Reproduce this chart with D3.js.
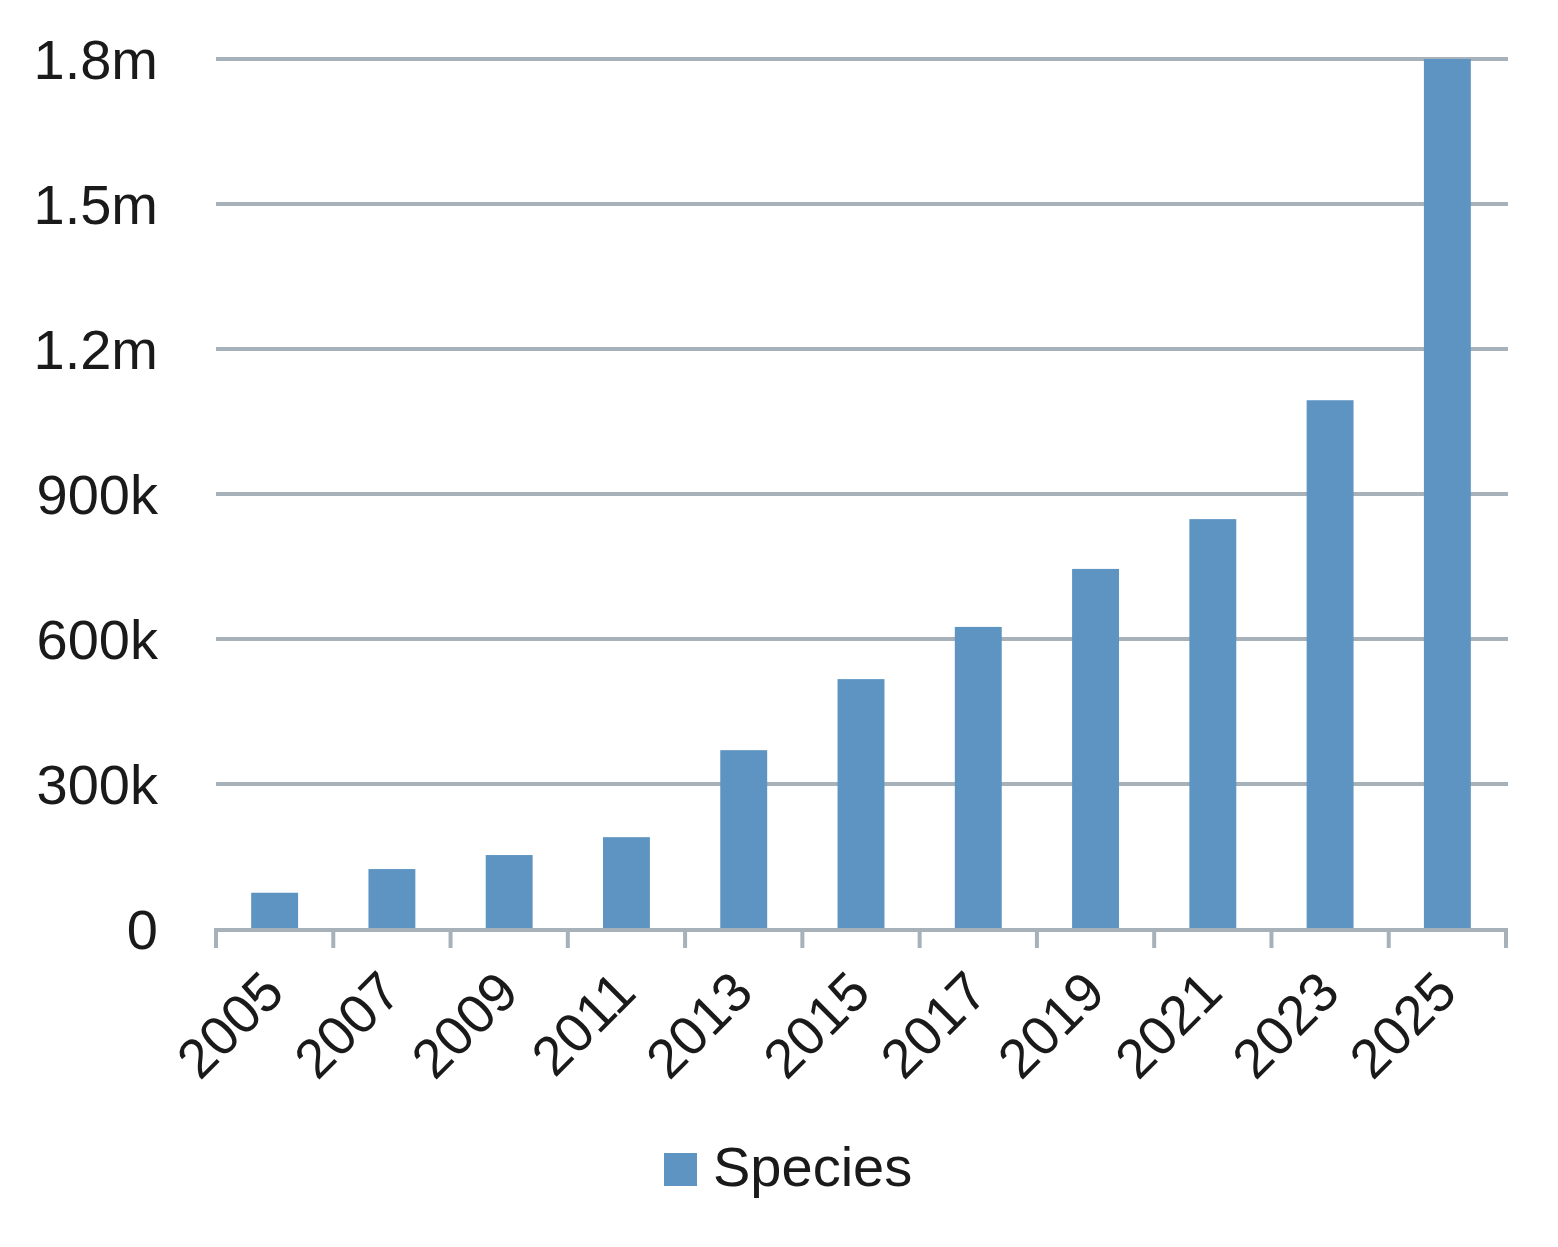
<!DOCTYPE html>
<html>
<head>
<meta charset="utf-8">
<script src="https://cdn.jsdelivr.net/npm/d3@7"></script>
<style>
  html, body { margin: 0; padding: 0; background: #fff; }
  svg { display: block; }
  text { font-family: "Liberation Sans", Arial, Helvetica, sans-serif; fill: #1a1a1a; }
</style>
</head>
<body>
<script>
const years = ["2005","2007","2009","2011","2013","2015","2017","2019","2021","2023","2025"];
const species = [75000, 124000, 153000, 190000, 370000, 517000, 625000, 745000, 848000, 1094000, 1800000];
const yTicks = [0, 300000, 600000, 900000, 1200000, 1500000, 1800000];
const yTickLabels = ["0", "300k", "600k", "900k", "1.2m", "1.5m", "1.8m"];
const seriesName = "Species";

const W = 1558, H = 1247;
const plotLeft = 216, plotRight = 1506, plotTop = 59, plotBottom = 929;
const barColor = "#5d94c1", gridColor = "#a6b1ba";

const svg = d3.select("body").append("svg").attr("width", W).attr("height", H);

const x = d3.scaleBand().domain(years).range([plotLeft, plotRight]).paddingInner(0.6).paddingOuter(0.3);
const y = d3.scaleLinear().domain([0, 1800000]).range([plotBottom, plotTop]);

// gridlines
svg.append("g").selectAll("line").data(yTicks.filter(d => d > 0)).join("line")
  .attr("x1", plotLeft).attr("x2", plotRight + 2)
  .attr("y1", d => y(d)).attr("y2", d => y(d))
  .attr("stroke", gridColor).attr("stroke-width", 4);

// bars
svg.append("g").selectAll("rect").data(years).join("rect")
  .attr("x", d => x(d))
  .attr("width", x.bandwidth())
  .attr("y", (d, i) => y(species[i]))
  .attr("height", (d, i) => y(0) - y(species[i]))
  .attr("fill", barColor);

// x axis line and ticks at band boundaries
const step = x.step();
const tickXs = d3.range(years.length + 1).map(i => plotLeft + i * step);
svg.append("line").attr("x1", plotLeft - 2).attr("x2", plotRight + 2)
  .attr("y1", plotBottom + 1).attr("y2", plotBottom + 1)
  .attr("stroke", gridColor).attr("stroke-width", 4);
svg.append("g").selectAll("line").data(tickXs).join("line")
  .attr("x1", d => d).attr("x2", d => d)
  .attr("y1", plotBottom - 1).attr("y2", plotBottom + 19)
  .attr("stroke", gridColor).attr("stroke-width", 4);

// y labels
svg.append("g").selectAll("text").data(yTicks).join("text")
  .attr("x", 158).attr("y", d => y(d))
  .attr("dy", "0.36em")
  .attr("text-anchor", "end")
  .attr("font-size", 56)
  .text((d, i) => yTickLabels[i]);

// x labels rotated
svg.append("g").selectAll("text").data(years).join("text")
  .attr("text-anchor", "end")
  .attr("font-size", 55)
  .attr("transform", d => `translate(${x(d) + x.bandwidth() / 2 - 16},${plotBottom + 38}) rotate(-45)`)
  .attr("dy", "0.72em")
  .text(d => d);

// legend
const lg = svg.append("g");
lg.append("rect").attr("x", 664).attr("y", 1153).attr("width", 33).attr("height", 33).attr("fill", barColor);
lg.append("text").attr("x", 713).attr("y", 1186).attr("font-size", 56).text(seriesName);
</script>
</body>
</html>
